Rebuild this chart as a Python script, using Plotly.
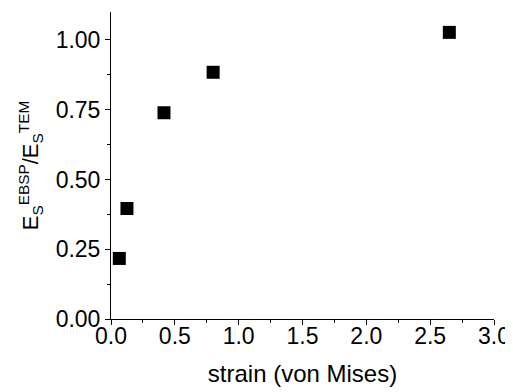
import plotly.graph_objects as go

strain = [0.065, 0.125, 0.415, 0.80, 2.65]
ratio = [0.217, 0.396, 0.739, 0.884, 1.027]

x_ticks = [0.0, 0.5, 1.0, 1.5, 2.0, 2.5, 3.0]
y_ticks = [0.00, 0.25, 0.50, 0.75, 1.00]

font = "Liberation Sans, Arial, sans-serif"

fig = go.Figure()
fig.add_trace(go.Scatter(
    x=strain, y=ratio, mode="markers",
    marker=dict(symbol="square", size=13, color="black", line=dict(width=0)),
    showlegend=False,
))

# page body has an 8px margin, so the figure is sized/offset to compensate
fig.update_layout(
    width=505, height=384,
    margin=dict(l=103, r=19, t=4, b=73),
    paper_bgcolor="white", plot_bgcolor="white",
    font=dict(family=font, size=23, color="black"),
    xaxis=dict(
        range=[0, 3.0], tickvals=x_ticks, ticktext=[f"{v:.1f}" for v in x_ticks],
        showline=True, linecolor="black", linewidth=1,
        ticks="outside", ticklen=5, tickwidth=1, tickcolor="black",
        minor=dict(ticks="outside", ticklen=3, dtick=0.25, tick0=0, tickcolor="black"),
        showgrid=False, zeroline=False, automargin=False,
        ticklabelstandoff=-9,
        title=dict(text="strain (von Mises)", font=dict(size=24), standoff=17),
    ),
    yaxis=dict(
        range=[0, 1.1], tickvals=y_ticks, ticktext=[f"{v:.2f}" for v in y_ticks],
        showline=True, linecolor="black", linewidth=1,
        ticks="outside", ticklen=5, tickwidth=1, tickcolor="black",
        minor=dict(ticks="outside", ticklen=3, dtick=0.125, tick0=0, tickcolor="black"),
        showgrid=False, zeroline=False, automargin=False,
        title=dict(text="E<sub>S</sub><sup>EBSP</sup>/E<sub>S</sub><sup>TEM</sup>", font=dict(size=22), standoff=10),
    ),
)

fig.write_html("out.html")
